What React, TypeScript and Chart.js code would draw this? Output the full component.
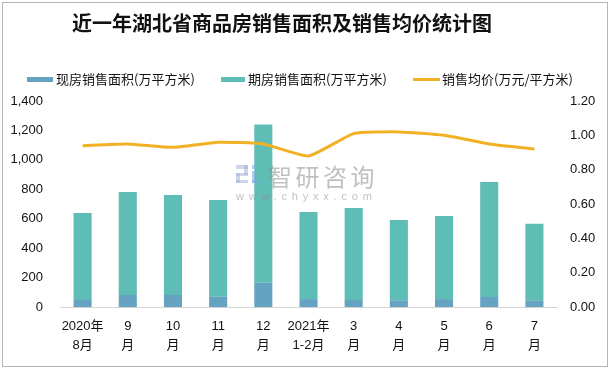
import React, { useEffect, useRef } from "react";
import { Chart, registerables } from "chart.js";

Chart.register(...registerables);

const categories: string[][] = [
  ["2020年", "8月"], ["9", "月"], ["10", "月"], ["11", "月"], ["12", "月"],
  ["2021年", "1-2月"], ["3", "月"], ["4", "月"], ["5", "月"], ["6", "月"], ["7", "月"],
];
const existingArea = [48, 82, 82, 70, 165, 54, 48, 43, 54, 68, 43];
const futuresArea = [591, 700, 680, 658, 1075, 592, 625, 549, 565, 782, 522];
const avgPrice = [0.94, 0.95, 0.93, 0.96, 0.95, 0.88, 1.01, 1.02, 1.0, 0.95, 0.92];

const seriesNames = ["现房销售面积(万平方米)", "期房销售面积(万平方米)", "销售均价(万元/平方米)"];
const titleText = "近一年湖北省商品房销售面积及销售均价统计图";

const BLUE = "#66A3C3";
const TEAL = "#5EBDB5";
const ORANGE = "#F2B124";
const TICK_FONT = "'Liberation Sans', 'Noto Sans CJK SC', sans-serif";
const CJK_FONT = "'Noto Sans CJK SC', sans-serif";

const decor = {
  id: "decor",
  beforeDraw(chart: any) {
    const ctx = chart.ctx;
    ctx.save();
    ctx.fillStyle = "#ffffff";
    ctx.fillRect(0, 0, chart.width, chart.height);
    ctx.strokeStyle = "#b5b5b5";
    ctx.lineWidth = 1;
    ctx.strokeRect(2.5, 2.5, chart.width - 5, chart.height - 5);
    ctx.restore();
  },
  afterDatasetsDraw(chart: any) {
    const ctx = chart.ctx;
    ctx.save();
    // watermark logo
    ctx.fillStyle = "rgba(160,180,215,0.55)";
    ctx.fillRect(236, 165, 12, 4);
    ctx.fillRect(244, 165, 4, 10);
    ctx.fillRect(236, 173, 12, 3);
    ctx.fillRect(236, 173, 4, 10);
    ctx.fillRect(236, 180, 12, 3);
    ctx.fillStyle = "rgba(120,170,220,0.55)";
    ctx.fillRect(252, 165, 4, 4);
    ctx.fillRect(252, 171, 4, 12);
    ctx.fillRect(252, 180, 10, 3);
    ctx.fillStyle = "rgba(140,140,140,0.55)";
    ctx.font = `24px ${CJK_FONT}`;
    ctx.textBaseline = "middle";
    ctx.textAlign = "left";
    (ctx as any).letterSpacing = "3.5px";
    ctx.fillText("智研咨询", 268, 177);
    ctx.font = `11px ${TICK_FONT}`;
    (ctx as any).letterSpacing = "4.8px";
    ctx.fillText("www.chyxx.com", 236, 197);
    (ctx as any).letterSpacing = "0px";
    ctx.restore();
  },
  afterDraw(chart: any) {
    const ctx = chart.ctx;
    ctx.save();
    ctx.fillStyle = "#111111";
    ctx.textBaseline = "middle";
    ctx.textAlign = "left";
    ctx.font = `bold 20px ${CJK_FONT}`;
    ctx.fillText(titleText, 72, 23);

    ctx.font = `13px ${CJK_FONT}`;
    const ly = 79.5;
    ctx.fillStyle = BLUE;
    ctx.fillRect(27, 77, 26, 5);
    ctx.fillStyle = "#111111";
    ctx.fillText(seriesNames[0], 56, ly);
    ctx.fillStyle = TEAL;
    ctx.fillRect(221, 77, 24, 5);
    ctx.fillStyle = "#111111";
    ctx.fillText(seriesNames[1], 248, ly);
    ctx.strokeStyle = ORANGE;
    ctx.lineWidth = 3;
    ctx.beginPath();
    ctx.moveTo(413, ly);
    ctx.lineTo(440, ly);
    ctx.stroke();
    ctx.fillStyle = "#111111";
    ctx.fillText(seriesNames[2], 442, ly);
    ctx.restore();
  },
};

export default function App() {
  const ref = useRef<HTMLCanvasElement | null>(null);
  useEffect(() => {
    document.body.style.margin = "0";
    if (!ref.current) return;
    const chart = new Chart(ref.current, {
      type: "bar",
      data: {
        labels: categories as any,
        datasets: [
          {
            type: "line",
            label: seriesNames[2],
            data: avgPrice,
            yAxisID: "y1",
            borderColor: ORANGE,
            backgroundColor: ORANGE,
            borderWidth: 3,
            pointRadius: 0,
            tension: 0.15,
            order: 0,
          } as any,
          {
            label: seriesNames[0],
            data: existingArea,
            backgroundColor: BLUE,
            yAxisID: "y",
            stack: "s",
            order: 1,
            barPercentage: 0.4,
            categoryPercentage: 1,
          },
          {
            label: seriesNames[1],
            data: futuresArea,
            backgroundColor: TEAL,
            yAxisID: "y",
            stack: "s",
            order: 1,
            barPercentage: 0.4,
            categoryPercentage: 1,
          },
        ],
      },
      options: {
        responsive: false,
        animation: false,
        devicePixelRatio: 1,
        layout: { padding: { top: 101, bottom: 0, left: 0, right: 0 } },
        plugins: {
          legend: { display: false },
          title: { display: false },
          tooltip: { enabled: false },
        },
        scales: {
          x: {
            stacked: true,
            grid: { display: false, drawTicks: false },
            border: { display: true, color: "#d4d4d4", width: 1 },
            ticks: {
              color: "#111111",
              padding: 10,
              font: { family: TICK_FONT, size: 13, lineHeight: 1.46 },
              maxRotation: 0,
              autoSkip: false,
            },
            afterFit: (s: any) => { s.height = 62; },
          },
          y: {
            stacked: true,
            position: "left",
            min: 0,
            max: 1400,
            grid: { display: false, drawTicks: false },
            border: { display: false },
            ticks: {
              stepSize: 200,
              color: "#111111",
              padding: 17,
              font: { family: TICK_FONT, size: 13 },
              callback: (v: any) => Number(v).toLocaleString("en-US"),
            },
            afterFit: (s: any) => { s.width = 60; },
          },
          y1: {
            position: "right",
            min: 0,
            max: 1.2,
            grid: { display: false, drawTicks: false },
            border: { display: false },
            ticks: {
              stepSize: 0.2,
              color: "#111111",
              padding: 13,
              font: { family: TICK_FONT, size: 13 },
              callback: (v: any) => Number(v).toFixed(2),
            },
            afterFit: (s: any) => { s.width = 53; },
          },
        },
      },
      plugins: [decor],
    });
    return () => chart.destroy();
  }, []);
  return (
    <canvas ref={ref} width={610} height={369} style={{ display: "block", width: 610, height: 369 }} />
  );
}
